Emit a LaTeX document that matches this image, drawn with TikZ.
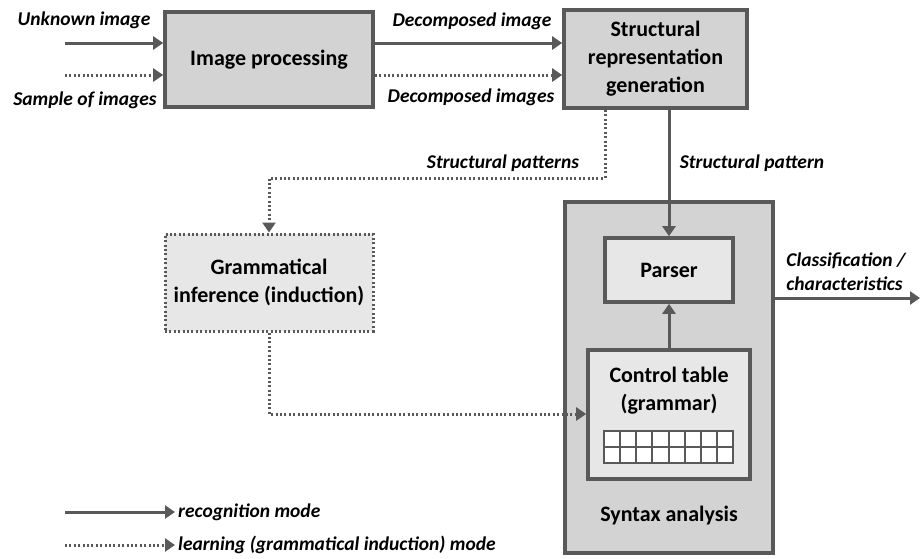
\documentclass[tikz,border=0pt]{standalone}
\usepackage{fontspec}
\setmainfont{Carlito}
\usetikzlibrary{arrows.meta}
\definecolor{edge}{HTML}{595959}
\definecolor{fillA}{HTML}{D3D3D3}
\definecolor{fillB}{HTML}{E7E7E7}
\begin{document}
\begin{tikzpicture}[x=1pt,y=-1pt,
  box/.style={draw=edge, line width=3.6pt, fill=fillA, inner sep=0pt, align=center,
    font=\fontsize{22}{28}\selectfont\bfseries},
  lbox/.style={box, fill=fillB},
  dbox/.style={lbox, line width=3pt, dash pattern=on 2pt off 2.4pt},
  arr/.style={draw=edge, line width=3pt, -{Triangle[length=10pt,width=13pt]}},
  darr/.style={arr, dash pattern=on 2pt off 2.4pt},
  lab/.style={font=\fontsize{19.5}{24}\selectfont\bfseries\itshape, inner sep=0pt, align=left},
  txt/.style={font=\fontsize{22}{28}\selectfont\bfseries, inner sep=0pt, align=center}
]
\useasboundingbox (0,0) rectangle (923,558);

% boxes
\node[box, minimum width=208pt, minimum height=95pt] (ip) at (269,59.5) {Image processing};
\node[box, minimum width=183pt, minimum height=98pt] (srg) at (655.5,59) {Structural\\representation\\generation};
\node[dbox, minimum width=208pt, minimum height=97pt] (gi) at (269,282.5) {Grammatical\\inference (induction)};
\node[box, minimum width=208pt, minimum height=351pt] (sa) at (669,377.5) {};
\node[lbox, minimum width=128pt, minimum height=64pt] (parser) at (669,270) {Parser};
\node[lbox, minimum width=162pt, minimum height=129pt] (ct) at (669,414.5) {};
\node[txt] (cttext) at (669,391) {Control table\\(grammar)};
\node[txt] (satext) at (669,515) {Syntax analysis};

% grid
\foreach \i in {0,...,7} {
  \foreach \j in {0,1} {
    \draw[edge, line width=2pt, fill=white] (604+\i*16.125, 431+\j*16) rectangle ++(16.125,16);
  }
}

% inputs
\coordinate (in1) at (65,43);
\coordinate (in2) at (65,75);
\draw[arr] (in1) -- (ip.west |- in1);
\draw[darr] (in2) -- (ip.west |- in2);
\node[lab] (l1) at (84,20) {Unknown image};
\node[lab] (l2) at (85,100) {Sample of images};

% ip -> srg
\draw[arr] (ip.east |- in1) -- (srg.west |- in1);
\draw[darr] (ip.east |- in2) -- (srg.west |- in2);
\node[lab] (l3) at (472,21) {Decomposed image};
\node[lab] (l4) at (471,97) {Decomposed images};

% srg -> gi (dotted)
\coordinate (sp1) at (605,178);
\draw[darr] (srg.south -| sp1) -- (sp1) -- (gi.north |- sp1) -- (gi.north);
\node[lab] (l5) at (503,163) {Structural patterns};

% srg -> parser
\draw[arr] (srg.south -| parser.north) -- (parser.north);
\node[lab] (l6) at (752,163) {Structural pattern};

% ct -> parser
\draw[arr] (ct.north) -- (parser.south);

% gi -> ct
\coordinate (gc) at (269,414);
\draw[darr] (gi.south) -- (gc) -- (ct.west |- gc);

% output
\coordinate (out) at (920,298);
\draw[arr] (sa.east |- out) -- (out);
\node[lab] (l7) at (846,272) {Classification /\\characteristics};

% legend
\coordinate (lg1) at (65,512);
\coordinate (lg1e) at (175,512);
\coordinate (lg2) at (65,545);
\coordinate (lg2e) at (175,545);
\draw[arr] (lg1) -- (lg1e);
\draw[darr] (lg2) -- (lg2e);
\node[lab, anchor=west] (l8) at (178,512) {recognition mode};
\node[lab, anchor=west] (l9) at (178,545) {learning (grammatical induction) mode};
\end{tikzpicture}
\end{document}
